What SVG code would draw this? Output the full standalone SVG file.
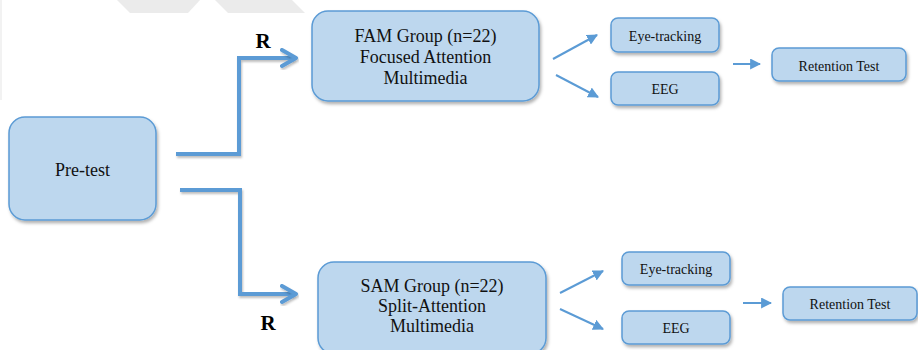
<svg xmlns="http://www.w3.org/2000/svg" width="918" height="350" viewBox="0 0 918 350">
<style>
.box{fill:#BDD7EE;stroke:#5B9BD5;stroke-width:1.5;filter:url(#sh)}
.t{font-family:"Liberation Serif","Times New Roman",serif;fill:#111;text-anchor:middle}
.big{font-size:18px}
.sm{font-size:14px}
.r{font-family:"Liberation Serif","Times New Roman",serif;font-weight:bold;font-size:21px;fill:#000;text-anchor:middle}
.thick{fill:none;stroke:#5B9BD5;stroke-width:4;filter:url(#sh2)}
.thin{fill:none;stroke:#5B9BD5;stroke-width:2}
</style>
<defs>
<filter id="sh" x="-10%" y="-10%" width="130%" height="140%">
<feDropShadow dx="1.5" dy="2.5" stdDeviation="1.5" flood-color="#000" flood-opacity="0.3"/>
</filter>
<filter id="sh2" x="-10%" y="-10%" width="130%" height="130%">
<feDropShadow dx="1" dy="2" stdDeviation="1" flood-color="#000" flood-opacity="0.25"/>
</filter>
<marker id="ah" viewBox="0 0 10 10" refX="9" refY="5" markerWidth="5.5" markerHeight="5.5" orient="auto" markerUnits="strokeWidth">
<path d="M0,0 L10,5 L0,10 z" fill="#5B9BD5"/>
</marker>
</defs>
<rect width="918" height="350" fill="#fff"/>
<g id="watermark" fill="#EBEBEB">
<polygon points="117,0 200,0 188,13 130,13"/>
<polygon points="215,0 292,0 305,13 228,13"/>
<rect x="0" y="0" width="2" height="100" fill="#F2F2F2"/>
</g>
<g id="connectors">
<polyline class="thick" points="176,154 239,154 239,58 294,58"/>
<polyline class="thick" points="282,50 296,58 282,66" stroke-linecap="round" stroke-linejoin="round"/>
<polyline class="thick" points="180,190 240,190 240,294 294,294"/>
<polyline class="thick" points="282,286 296,294 282,302" stroke-linecap="round" stroke-linejoin="round"/>
<line class="thin" x1="553" y1="59" x2="597" y2="35" marker-end="url(#ah)"/>
<line class="thin" x1="556" y1="75" x2="598" y2="97" marker-end="url(#ah)"/>
<line class="thin" x1="733" y1="64" x2="760" y2="64" marker-end="url(#ah)"/>
<line class="thin" x1="560" y1="293" x2="603" y2="271" marker-end="url(#ah)"/>
<line class="thin" x1="560" y1="309" x2="603" y2="329" marker-end="url(#ah)"/>
<line class="thin" x1="743" y1="303" x2="771" y2="303" marker-end="url(#ah)"/>
</g>
<g id="label-r1"><text class="r" x="263" y="48">R</text></g>
<g id="label-r2"><text class="r" x="268" y="330">R</text></g>
<g id="pretest">
<rect class="box" x="9" y="117" width="147" height="103" rx="16"/>
<text class="t big" x="82.5" y="176">Pre-test</text>
</g>
<g id="fam">
<rect class="box" x="312" y="11" width="227" height="90" rx="16"/>
<text class="t big" x="425.5" y="42">FAM Group (n=22)</text>
<text class="t big" x="425.5" y="63">Focused Attention</text>
<text class="t big" x="425.5" y="84">Multimedia</text>
</g>
<g id="sam">
<rect class="box" x="318" y="262" width="228" height="92" rx="16"/>
<text class="t big" x="432" y="292">SAM Group (n=22)</text>
<text class="t big" x="432" y="312">Split-Attention</text>
<text class="t big" x="432" y="332">Multimedia</text>
</g>
<g id="eye1">
<rect class="box" x="611" y="18" width="108" height="34" rx="7"/>
<text class="t sm" x="665" y="40.5">Eye-tracking</text>
</g>
<g id="eeg1">
<rect class="box" x="611" y="72" width="108" height="33" rx="7"/>
<text class="t sm" x="665" y="93.5">EEG</text>
</g>
<g id="ret1">
<rect class="box" x="772" y="48" width="134" height="33" rx="7"/>
<text class="t sm" x="839" y="70.5">Retention Test</text>
</g>
<g id="eye2">
<rect class="box" x="622" y="252" width="108" height="33" rx="7"/>
<text class="t sm" x="676" y="273.5">Eye-tracking</text>
</g>
<g id="eeg2">
<rect class="box" x="622" y="311" width="108" height="33" rx="7"/>
<text class="t sm" x="676" y="332.5">EEG</text>
</g>
<g id="ret2">
<rect class="box" x="783" y="287" width="134" height="33" rx="7"/>
<text class="t sm" x="850" y="308.5">Retention Test</text>
</g>
</svg>
